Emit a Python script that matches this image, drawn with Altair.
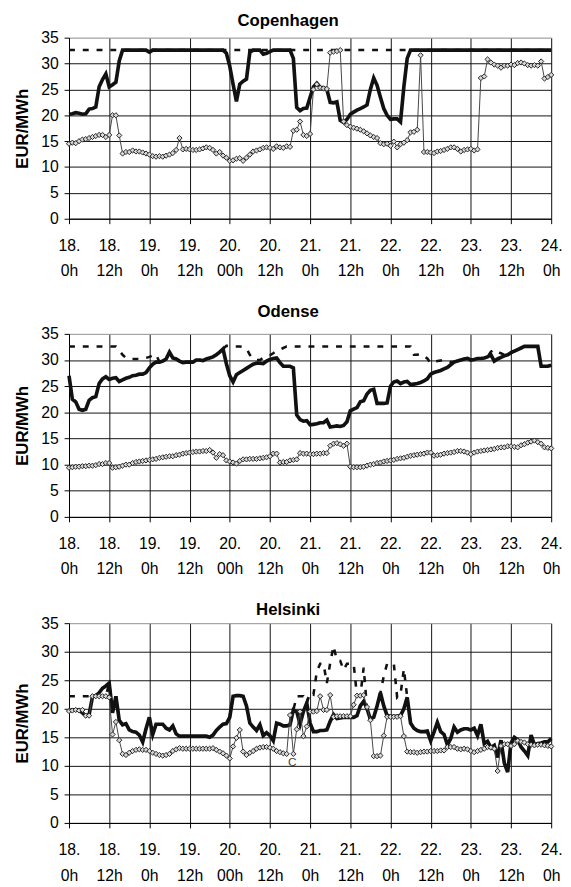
import json
import altair as alt
import pandas as pd

hours = list(range(145))

day_labels = ["18.", "18.", "19.", "19.", "20.", "20.", "21.", "21.", "22.", "22.", "23.", "23.", "24."]
hour_labels = ["0h", "12h", "0h", "12h", "00h", "12h", "0h", "12h", "0h", "12h", "0h", "12h", "0h"]
y_ticks = [0, 5, 10, 15, 20, 25, 30, 35]

# ---------------- Copenhagen ----------------
cph_thick = [
    20.2, 20.3, 20.5, 20.4, 20.2, 20.3, 21.2, 21.3, 21.6, 25.5,
    26.9, 28.0, 25.5, 25.9, 26.4, 30.5, 32.6, 32.6, 32.6, 32.6,
    32.6, 32.6, 32.6, 32.6, 32.2, 32.6, 32.6, 32.6, 32.6, 32.6,
    32.6, 32.6, 32.6, 32.6, 32.6, 32.6, 32.6, 32.6, 32.6, 32.6,
    32.6, 32.6, 32.6, 32.6, 32.6, 32.6, 32.6, 32.0, 29.5, 26.0,
    22.7, 26.0, 26.6, 27.0, 32.2, 32.6, 32.6, 32.6, 31.8, 32.0,
    32.3, 32.6, 32.6, 32.6, 32.6, 32.6, 32.6, 31.0, 21.5, 20.9,
    21.3, 21.4, 23.5, 25.5, 26.2, 25.4, 25.3, 25.0, 22.5, 22.4,
    22.6, 19.0, 18.6, 19.2, 20.2, 20.6, 21.0, 21.3, 21.6, 22.0,
    25.0, 27.2, 25.8, 23.5, 21.3, 20.0, 19.2, 19.3, 19.3, 18.7,
    25.5, 31.0, 32.6, 32.6, 32.6, 32.6, 32.6, 32.6, 32.6, 32.6,
    32.6, 32.6, 32.6, 32.6, 32.6, 32.6, 32.6, 32.6, 32.6, 32.6,
    32.6, 32.6, 32.6, 32.6, 32.6, 32.6, 32.6, 32.6, 32.6, 32.6,
    32.6, 32.6, 32.6, 32.6, 32.6, 32.6, 32.6, 32.6, 32.6, 32.6,
    32.6, 32.6, 32.6, 32.6, 32.6,
]
cph_dash = [32.6] * 145
cph_mk = [
    14.5, 14.7, 14.6, 15.0, 15.3, 15.4, 15.6, 15.8, 16.0, 16.2,
    16.2, 15.8, 16.2, 20.0, 20.0, 16.1, 12.6, 12.9, 12.9, 13.2,
    13.0, 13.0, 12.8, 12.6, 12.4, 12.1, 12.0, 12.1, 12.0, 12.2,
    12.4, 12.7, 13.3, 15.6, 13.4, 13.5, 13.4, 13.3, 13.3, 13.4,
    13.6, 13.8, 13.7, 13.3, 12.6, 12.9, 12.2, 11.8, 11.2, 11.3,
    11.6, 11.7, 11.2, 11.8, 12.4, 13.0, 13.2, 13.4, 13.7, 13.8,
    13.7, 13.5, 14.0, 13.8, 13.7, 14.0, 13.9, 17.0, 17.2, 18.8,
    16.2, 16.0, 16.4, 25.0, 26.0, 25.3, 25.2, 25.1, 32.1, 32.3,
    32.4, 32.6, 18.8, 18.1, 17.8, 17.6, 17.4, 17.2, 16.9, 16.5,
    16.1, 15.8, 15.6, 14.6, 14.4, 14.5, 14.1, 14.9, 13.8, 14.4,
    14.7, 15.2, 16.7, 16.8, 17.2, 31.6, 12.9, 12.9, 12.8, 12.7,
    13.0, 13.1, 13.3, 13.5, 13.8, 13.8, 13.5, 13.0, 13.3, 13.4,
    13.5, 13.2, 13.4, 27.2, 27.5, 30.8, 30.2, 29.8, 29.6, 29.2,
    29.6, 29.6, 29.8, 29.7, 30.1, 30.2, 30.0, 29.7, 29.6, 29.7,
    29.6, 30.4, 27.1, 27.4, 27.8,
]

# ---------------- Odense ----------------
ode_thick = [
    27.0, 22.5, 22.0, 20.6, 20.4, 20.6, 22.3, 22.8, 23.0, 25.5,
    26.4, 26.8, 26.3, 26.5, 26.6, 25.9, 26.2, 26.5, 26.7, 27.0,
    27.1, 27.3, 27.3, 27.6, 28.5, 29.2, 29.6, 29.6, 29.8, 30.2,
    31.5, 30.4, 30.2, 29.8, 29.5, 29.6, 29.6, 29.6, 30.0, 30.0,
    29.9, 30.2, 30.4, 30.6, 31.0, 31.5, 32.1, 29.3, 27.0, 25.8,
    27.2, 27.6, 28.0, 28.4, 28.8, 29.2, 29.4, 29.4, 29.3, 29.8,
    30.1, 30.3, 30.4, 29.5, 28.8, 28.8, 28.8, 28.5, 19.5, 18.6,
    18.3, 18.4, 17.6, 17.7, 17.8, 18.0, 18.0, 18.5, 17.2, 17.3,
    17.4, 17.3, 17.5, 18.2, 20.3, 20.6, 20.9, 22.0, 22.2, 23.5,
    24.2, 24.4, 21.7, 21.7, 21.7, 21.8, 25.0, 25.8, 26.0, 25.5,
    25.8, 25.9, 25.3, 25.4, 25.5, 25.7, 26.0, 26.4, 27.3, 27.6,
    27.8, 28.0, 28.3, 28.6, 29.1, 29.6, 29.8, 30.0, 30.2, 30.3,
    30.0, 30.1, 30.3, 30.3, 30.4, 30.6, 31.0, 29.8, 30.2, 30.5,
    30.8, 31.0, 31.4, 31.7, 32.0, 32.3, 32.6, 32.6, 32.6, 32.6,
    32.6, 28.8, 28.8, 28.8, 29.0,
]
ode_dash = [
    32.6, 32.6, 32.6, 32.6, 32.6, 32.6, 32.6, 32.6, 32.6, 32.6,
    32.6, 32.6, 32.6, 32.6, 32.6, 31.8, 31.0, 30.4, 30.2, 30.2,
    30.2, 30.2, 30.3, 30.4, 30.6, 30.9, 31.1, 29.6, 29.8, 30.2,
    31.5, 30.4, 30.2, 29.8, 29.5, 29.6, 29.6, 29.6, 30.0, 30.0,
    29.9, 30.2, 30.4, 30.6, 31.0, 31.5, 32.1, 32.7, 32.7, 32.6,
    32.6, 32.6, 32.5, 32.2, 31.0, 30.2, 30.0, 30.0, 30.4, 30.8,
    30.9, 31.3, 31.8, 32.0, 32.3, 32.6, 32.6, 32.6, 32.6, 32.6,
    32.6, 32.6, 32.6, 32.6, 32.6, 32.6, 32.6, 32.6, 32.6, 32.6,
    32.6, 32.6, 32.6, 32.6, 32.6, 32.6, 32.6, 32.6, 32.6, 32.6,
    32.6, 32.6, 32.6, 32.6, 32.6, 32.6, 32.6, 32.6, 32.6, 32.6,
    32.6, 32.6, 32.6, 31.0, 31.0, 31.2, 30.8, 30.3, 29.4, 29.6,
    29.8, 29.9, 30.0, 29.8, 29.6, 29.6, 29.8, 30.0, 30.2, 30.3,
    30.0, 30.1, 30.3, 30.3, 30.4, 30.6, 31.6, 32.0, 31.5, 31.3,
    31.0, 31.0, 31.4, 31.7, 32.0, 32.3, 32.6, 32.6, 32.6, 32.6,
    32.6, 28.8, 28.8, 28.8, 29.0,
]
ode_mk = [
    9.4, 9.5, 9.6, 9.6, 9.7, 9.7, 9.8, 9.8, 9.9, 10.1,
    10.1, 10.3, 10.3, 9.4, 9.5, 9.6, 9.8, 10.0, 10.0, 10.3,
    10.5, 10.6, 10.7, 10.8, 10.9, 11.0, 11.1, 11.3, 11.4, 11.5,
    11.6, 11.6, 11.8, 11.9, 12.1, 12.2, 12.3, 12.4, 12.5, 12.5,
    12.6, 12.6, 12.8, 12.3, 11.3, 12.0, 11.8, 10.8, 10.6, 10.4,
    10.2, 10.7, 11.0, 11.0, 11.1, 11.1, 11.1, 11.2, 11.3, 11.4,
    11.6, 12.1, 12.1, 10.4, 10.5, 10.5, 10.8, 10.9, 11.0, 12.2,
    12.1, 12.1, 12.0, 12.0, 12.1, 12.1, 12.2, 12.2, 13.6, 14.0,
    14.1, 13.9, 13.6, 14.0, 9.6, 9.5, 9.5, 9.5, 9.6, 9.8,
    10.0, 10.1, 10.3, 10.4, 10.6, 10.7, 10.8, 10.9, 11.1, 11.2,
    11.3, 11.5, 11.7, 11.8, 11.9, 12.0, 12.1, 12.3, 12.3, 11.7,
    11.8, 11.9, 12.1, 12.2, 12.3, 12.4, 12.6, 12.6, 12.5, 12.3,
    12.0, 12.3, 12.5, 12.6, 12.7, 12.8, 12.9, 13.0, 13.2, 13.3,
    13.3, 13.5, 13.5, 13.4, 13.3, 13.7, 13.9, 14.2, 14.4, 14.6,
    14.3, 14.0, 13.3, 13.2, 13.1,
]

# ---------------- Helsinki ----------------
hel_thick = [
    19.7, 19.8, 19.8, 19.8, 19.3, 18.8, 19.0, 22.1, 22.3, 22.8,
    23.6, 24.0, 24.5, 19.3, 22.2, 18.0, 17.2, 17.4, 16.3, 16.0,
    15.9, 15.4, 14.2, 16.5, 18.5, 15.5, 17.3, 17.3, 17.3, 16.6,
    16.3, 17.0, 15.6, 15.2, 15.2, 15.2, 15.2, 15.2, 15.2, 15.2,
    15.2, 15.2, 15.0, 15.4, 16.2, 16.8, 17.3, 17.4, 18.5, 22.2,
    22.3, 22.3, 22.2, 20.5, 17.5, 16.8, 16.2, 17.2, 15.3, 15.8,
    15.3, 14.4, 17.5, 17.3, 17.0, 17.0, 17.2, 19.8, 19.5, 17.3,
    19.5, 21.0, 17.5, 16.0, 16.0, 16.2, 16.2, 16.3, 17.8, 19.0,
    18.3, 18.4, 18.5, 18.5, 18.5, 18.5, 18.8, 20.5, 21.3, 20.0,
    18.2, 18.5, 20.5, 22.8, 20.5, 18.8, 18.7, 18.7, 18.7, 18.8,
    20.0, 22.0, 17.5, 16.6, 16.2, 16.0, 16.0, 16.1, 14.4, 15.9,
    17.6, 16.0, 15.5, 13.7, 14.8, 16.8, 15.9, 16.3, 16.5, 16.5,
    16.3, 16.6, 15.3, 17.3, 13.9, 14.3, 13.2, 13.6, 11.5, 14.5,
    10.5, 8.9, 14.0, 15.0, 14.6, 13.3, 12.6, 11.8, 15.4, 13.7,
    13.9, 14.0, 14.2, 14.2, 14.8,
]
hel_dash = [
    22.2, 22.2, 22.2, 22.2, 22.2, 22.2, 22.2, 22.2, 22.2, 22.2,
    22.2, 22.2, 24.5, 19.3, 22.2, 18.0, 17.2, 17.4, 16.3, 16.0,
    15.9, 15.4, 14.2, 16.5, 18.5, 15.5, 17.3, 17.3, 17.3, 16.6,
    16.3, 17.0, 15.6, 15.2, 15.2, 15.2, 15.2, 15.2, 15.2, 15.2,
    15.2, 15.2, 15.0, 15.4, 16.2, 16.8, 17.3, 17.4, 18.5, 22.2,
    22.3, 22.3, 22.2, 20.5, 17.5, 16.8, 16.2, 17.2, 15.3, 15.8,
    15.3, 14.4, 17.5, 17.3, 17.0, 17.0, 17.2, 19.8, 22.2, 22.2,
    22.2, 21.0, 22.8, 22.5, 26.5, 27.9, 27.9, 24.5, 28.0, 31.0,
    28.5, 28.4, 26.8, 27.9, 27.9, 27.9, 22.3, 22.3, 27.2, 20.0,
    18.2, 18.5, 20.5, 22.8, 25.7, 27.9, 27.9, 27.9, 22.0, 22.5,
    27.0, 22.0, 17.5, 16.6, 16.2, 16.0, 16.0, 16.1, 14.4, 15.9,
    17.6, 16.0, 15.5, 13.7, 14.8, 16.8, 15.9, 16.3, 16.5, 16.5,
    16.3, 16.6, 15.3, 17.3, 13.9, 14.3, 13.2, 13.6, 11.5, 14.5,
    10.5, 8.9, 14.0, 15.0, 14.6, 13.3, 12.6, 11.8, 15.4, 13.7,
    13.9, 14.0, 14.2, 14.2, 14.8,
]
hel_mk = [
    19.6, 19.7, 19.8, 19.7, 19.8, 18.8, 18.8, 22.2, 22.2, 22.2,
    22.2, 22.2, 22.0, 15.5, 17.7, 14.5, 12.1, 11.9, 12.3, 12.6,
    12.8, 12.9, 12.8, 12.8, 12.6, 12.3, 12.1, 11.9, 11.8, 11.9,
    12.1, 12.6, 12.9, 13.1, 13.0, 13.0, 13.0, 13.0, 13.0, 13.0,
    13.0, 13.0, 13.0, 13.1, 12.8, 12.5, 12.2, 11.8, 11.3, 13.4,
    14.9, 16.3, 12.5, 11.9, 12.3, 12.6, 13.0, 13.2, 13.3, 13.3,
    13.2, 13.0, 12.6, 12.4, 12.2, 12.1, 18.9, 12.1, 16.4, 19.5,
    15.2, 16.9, 19.5, 19.5, 19.6, 22.2, 19.8, 19.8, 22.4, 18.6,
    18.7, 18.7, 18.7, 18.7, 18.7, 20.7, 22.3, 22.3, 22.4, 20.3,
    18.0, 11.7, 11.7, 11.8, 15.3, 18.6, 18.6, 18.6, 18.6, 18.7,
    15.2, 12.5, 12.4, 12.4, 12.3, 12.4, 12.5, 12.5, 12.6, 12.6,
    12.6, 12.7, 12.7, 13.3, 13.3, 13.3, 13.0, 12.9, 13.0, 12.9,
    12.6, 12.4, 12.6, 12.8, 13.0, 13.3, 13.2, 13.0, 9.1, 13.5,
    13.8, 13.8, 13.5, 13.8, 14.4, 14.2, 14.1, 13.8, 13.7, 13.6,
    13.7, 13.7, 13.6, 13.5, 13.4,
]
hel_note_h = [66.7]
hel_note_v = [10.7]
hel_note_t = ["C"]

FONT = "Liberation Sans"
label_expr = ("[" + json.dumps(day_labels) + "[round(datum.value/12)], "
              + json.dumps(hour_labels) + "[round(datum.value/12)]]")

XS = alt.Scale(domain=[0, 144], nice=False, zero=False)
YS = alt.Scale(domain=[0, 35], nice=False)
XAXIS = alt.Axis(values=list(range(0, 145, 12)), labelExpr=label_expr, labelFlush=False,
                 labelOverlap=False, labelFontSize=16, labelLineHeight=26, labelPadding=14,
                 tickSize=5, tickColor="#000", domainColor="#000", gridColor="#111",
                 title=None, labelColor="#000")
YAXIS = alt.Axis(values=y_ticks, labelFontSize=16, labelPadding=6, tickSize=5, tickColor="#000",
                 domainColor="#000", title="EUR/MWh", titleFontSize=17, titleFontWeight="bold",
                 titlePadding=9, labelColor="#000", titleColor="#000",
                 gridColor=alt.condition("datum.value == 35", alt.value("#999999"), alt.value("#111111")))


def enc(ch):
    return ch.encode(x=alt.X("h:Q", scale=XS, axis=XAXIS), y=alt.Y("v:Q", scale=YS, axis=YAXIS))


def panel(title, thick, dash, mk, height, toff, note=None):
    rows = []
    for s, arr in (("dash", dash), ("thick", thick), ("mk", mk)):
        for h, v in zip(hours, arr):
            rows.append({"h": h, "v": v, "s": s})
    df = pd.DataFrame(rows)
    base = alt.Chart(df)
    dash_l = enc(base.transform_filter("datum.s == 'dash'").mark_line(
        color="#111", strokeWidth=2.6, strokeDash=[6, 8]))
    thick_l = enc(base.transform_filter("datum.s == 'thick'").mark_line(color="#111", strokeWidth=3.7))
    mk_l = enc(base.transform_filter("datum.s == 'mk'").mark_line(color="#444", strokeWidth=1))
    mk_p = enc(base.transform_filter("datum.s == 'mk'").mark_point(
        shape="diamond", filled=True, size=28, fill="#d8d8d8", stroke="#222", strokeWidth=1, opacity=1))
    layers = [dash_l, thick_l, mk_l, mk_p]
    if note is not None:
        ndf = pd.DataFrame({"h": note[0], "v": note[1], "t": note[2]})
        layers.append(enc(alt.Chart(ndf).mark_text(font=FONT, fontSize=12, color="#444")).encode(text="t:N"))
    return alt.layer(*layers).properties(
        width=490, height=height,
        title=alt.TitleParams(title, fontSize=17, fontWeight="bold", anchor="middle", frame="bounds",
                              offset=toff, color="#000", font=FONT))


c1 = panel("Copenhagen", cph_thick, cph_dash, cph_mk, 184, 0)
c2 = panel("Odense", ode_thick, ode_dash, ode_mk, 186, 5)
c3 = panel("Helsinki", hel_thick, hel_dash, hel_mk, 203, -4, note=(hel_note_h, hel_note_v, hel_note_t))

chart = alt.vconcat(c1, c2, c3, spacing=23).properties(
    padding={"left": 5, "top": -4, "right": 0, "bottom": 0}
).configure_axis(labelFont=FONT, titleFont=FONT, domainWidth=1, gridWidth=1).configure_view(
    stroke="#999", strokeWidth=1).configure(background="white")

chart.save("out.html", embed_options={"renderer": "svg", "actions": False})
